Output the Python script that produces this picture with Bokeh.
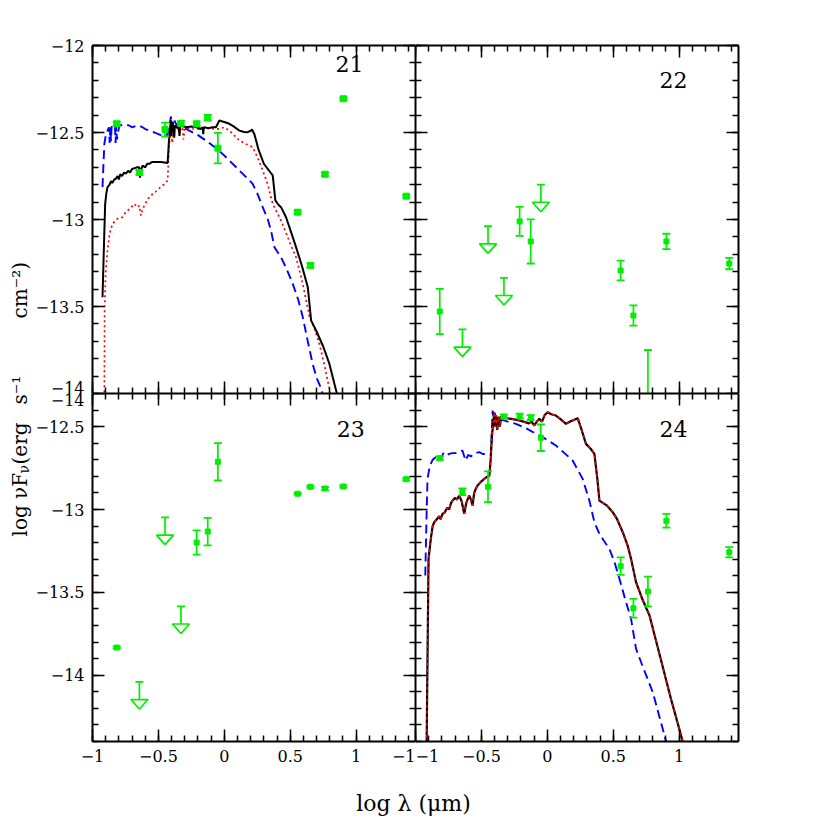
import math
from bokeh.plotting import figure
from bokeh.models import FixedTicker, Label, LinearAxis, Range1d
from bokeh.layouts import gridplot, row, column
from bokeh.embed import file_html
from bokeh.resources import INLINE

# ------------------------------------------------------------------ data
x_major = [-1, -0.5, 0, 0.5, 1]
x_major_labels = ["\u22121", "\u22120.5", "0", "0.5", "1"]
x_minor = [-1.0, -0.9, -0.8, -0.7, -0.6, -0.5, -0.4, -0.3, -0.2, -0.1, 0.0, 0.1, 0.2,
           0.3, 0.4, 0.5, 0.6, 0.7, 0.8, 0.9, 1.0, 1.1, 1.2, 1.3, 1.4]

y_major_top = [-14, -13.5, -13, -12.5, -12]
y_major_top_labels = ["\u221214", "\u221213.5", "\u221213", "\u221212.5", "\u221212"]
y_minor_top = [-14.0, -13.9, -13.8, -13.7, -13.6, -13.5, -13.4, -13.3, -13.2, -13.1, -13.0,
               -12.9, -12.8, -12.7, -12.6, -12.5, -12.4, -12.3, -12.2, -12.1, -12.0]
y_major_bot = [-14, -13.5, -13, -12.5]
y_major_bot_labels = ["\u221214", "\u221213.5", "\u221213", "\u221212.5"]
y_minor_bot = [-14.4, -14.3, -14.2, -14.1, -14.0, -13.9, -13.8, -13.7, -13.6, -13.5, -13.4,
               -13.3, -13.2, -13.1, -13.0, -12.9, -12.8, -12.7, -12.6, -12.5, -12.4, -12.3]

panel_names = ["21", "22", "23", "24"]
y_title_parts = ["log \u03bdF", "\u03bd", "(erg", "s\u207b\u00b9", "cm\u207b\u00b2)"]
x_title = "log \u03bb (\u03bcm)"

# panel 21
p21_x = [-0.816, -0.644, -0.450, -0.329, -0.210, -0.126, -0.049, 0.556, 0.653, 0.763, 0.903, 1.380]
p21_y = [-12.450, -12.730, -12.483, -12.447, -12.450, -12.415, -12.590, -12.958, -13.264, -12.740, -12.306, -12.866]
p21_e = [0.012, 0.014, 0.040, 0.012, 0.012, 0.016, 0.088, 0.010, 0.012, 0.010, 0.006, 0.008]

m21_black_x = [-0.924, -0.915, -0.904, -0.895, -0.886, -0.87, -0.86, -0.85, -0.835, -0.823, -0.81, -0.80,
               -0.79, -0.775, -0.76, -0.747, -0.73, -0.715, -0.70, -0.68, -0.66, -0.646, -0.64, -0.635,
               -0.62, -0.60, -0.585, -0.57, -0.55, -0.52, -0.48, -0.43, -0.42, -0.41, -0.405, -0.40,
               -0.395, -0.385, -0.38, -0.375, -0.36, -0.35, -0.34, -0.335, -0.31, -0.29, -0.25, -0.21,
               -0.18, -0.165, -0.16, -0.155, -0.12, -0.09, -0.064, -0.05, -0.038, -0.02, 0.0, 0.038,
               0.07, 0.114, 0.15, 0.177, 0.20, 0.21, 0.228, 0.26, 0.30, 0.35, 0.367, 0.387, 0.41,
               0.43, 0.468, 0.505, 0.544, 0.59, 0.633, 0.658, 0.696, 0.75, 0.797, 0.853, 0.87]
m21_black_y = [-13.447, -13.20, -12.91, -12.85, -12.814, -12.80, -12.78, -12.79, -12.77, -12.766, -12.75, -12.77,
               -12.74, -12.75, -12.73, -12.737, -12.72, -12.73, -12.71, -12.705, -12.70, -12.70, -12.76, -12.72,
               -12.69, -12.70, -12.68, -12.68, -12.67, -12.67, -12.67, -12.675, -12.546, -12.46, -12.43, -12.52,
               -12.44, -12.47, -12.53, -12.46, -12.47, -12.45, -12.52, -12.46, -12.465, -12.47, -12.465, -12.47,
               -12.48, -12.47, -12.51, -12.47, -12.475, -12.47, -12.47, -12.45, -12.43, -12.435, -12.44, -12.45,
               -12.465, -12.489, -12.497, -12.498, -12.49, -12.483, -12.51, -12.60, -12.68, -12.73, -12.747, -12.89, -12.915,
               -12.929, -12.987, -13.07, -13.159, -13.27, -13.389, -13.58, -13.638, -13.73, -13.83, -13.998, -14.05]

m21_red_x = [-0.91, -0.908, -0.90, -0.886, -0.87, -0.848, -0.83, -0.81, -0.79, -0.772, -0.75, -0.72, -0.70,
             -0.683, -0.66, -0.645, -0.633, -0.62, -0.60, -0.58, -0.56, -0.544, -0.52, -0.50, -0.468, -0.43,
             -0.42, -0.41, -0.405, -0.395, -0.385, -0.36, -0.34, -0.317, -0.31, -0.30, -0.25, -0.20, -0.165,
             -0.12, -0.08, -0.038, 0.0, 0.04, 0.08, 0.114, 0.16, 0.215, 0.25, 0.291, 0.33, 0.367, 0.40, 0.43,
             0.47, 0.50, 0.544, 0.595, 0.646, 0.68, 0.721, 0.76, 0.797, 0.81]
m21_red_y = [-14.05, -13.504, -13.30, -13.178, -13.08, -13.025, -13.01, -12.995, -12.99, -12.987, -12.96, -12.94, -12.925,
             -12.91, -12.93, -12.92, -12.977, -12.94, -12.91, -12.88, -12.87, -12.852, -12.84, -12.825, -12.805, -12.776,
             -12.584, -12.52, -12.49, -12.56, -12.49, -12.475, -12.49, -12.47, -12.54, -12.475, -12.48, -12.48, -12.479,
             -12.475, -12.48, -12.479, -12.47, -12.49, -12.52, -12.546, -12.565, -12.584, -12.64, -12.718, -12.80, -12.91, -12.96, -13.006,
             -13.08, -13.14, -13.217, -13.37, -13.561, -13.62, -13.714, -13.84, -13.973, -14.05]

m21_blue_x = [-0.924, -0.915, -0.91, -0.90, -0.886, -0.875, -0.87, -0.865, -0.86, -0.855, -0.848, -0.83, -0.825,
              -0.82, -0.815, -0.797, -0.76, -0.722, -0.70, -0.68, -0.646, -0.62, -0.60, -0.57, -0.53, -0.50,
              -0.468, -0.44, -0.42, -0.41, -0.405, -0.395, -0.385, -0.367, -0.33, -0.30, -0.266, -0.20, -0.14,
              -0.08, -0.013, 0.05, 0.114, 0.17, 0.215, 0.25, 0.291, 0.33, 0.354, 0.38, 0.43, 0.47, 0.519, 0.56,
              0.595, 0.63, 0.67, 0.70, 0.741, 0.75]
m21_blue_y = [-12.814, -12.65, -12.565, -12.52, -12.489, -12.47, -12.56, -12.47, -12.55, -12.47, -12.46, -12.455, -12.56,
              -12.46, -12.54, -12.46, -12.455, -12.46, -12.47, -12.465, -12.46, -12.47, -12.48, -12.489, -12.50, -12.51,
              -12.517, -12.52, -12.489, -12.43, -12.408, -12.47, -12.42, -12.45, -12.465, -12.475, -12.489, -12.515, -12.546,
              -12.58, -12.623, -12.67, -12.718, -12.76, -12.795, -12.85, -12.929, -13.00, -13.063, -13.159, -13.217, -13.28, -13.37, -13.46,
              -13.561, -13.69, -13.83, -13.91, -13.983, -14.05]

# panel 22
p22_x = [-0.816, -0.210, -0.126, 0.556, 0.653, 0.763, 0.903, 1.380]
p22_y = [-13.529, -13.011, -13.126, -13.293, -13.552, -14.100, -13.126, -13.253]
p22_e = [0.130, 0.083, 0.127, 0.057, 0.058, 0.350, 0.044, 0.033]
p22_ul_x = [-0.644, -0.450, -0.329, -0.049]
p22_ul_y = [-13.632, -13.038, -13.335, -12.799]

# panel 23
p23_x = [-0.816, -0.210, -0.126, -0.049, 0.556, 0.653, 0.763, 0.903, 1.380]
p23_y = [-13.833, -13.199, -13.133, -12.712, -12.905, -12.863, -12.873, -12.861, -12.817]
p23_e = [0.006, 0.073, 0.083, 0.113, 0.005, 0.006, 0.010, 0.007, 0.008]
p23_ul_x = [-0.644, -0.450, -0.329]
p23_ul_y = [-14.040, -13.048, -13.584]

# panel 24
p24_x = [-0.816, -0.644, -0.450, -0.329, -0.210, -0.126, -0.049, 0.556, 0.653, 0.763, 0.903, 1.380]
p24_y = [-12.690, -12.893, -12.863, -12.439, -12.437, -12.445, -12.567, -13.342, -13.596, -13.495, -13.068, -13.258]
p24_e = [0.010, 0.020, 0.093, 0.012, 0.015, 0.015, 0.080, 0.053, 0.057, 0.090, 0.041, 0.031]

m24_total_x = [-0.916, -0.905, -0.901, -0.884, -0.87, -0.858, -0.84, -0.82, -0.81, -0.795, -0.78, -0.76, -0.745,
               -0.73, -0.719, -0.70, -0.685, -0.668, -0.65, -0.63, -0.615, -0.60, -0.592, -0.58, -0.567, -0.555,
               -0.54, -0.529, -0.50, -0.47, -0.44, -0.43, -0.42, -0.41, -0.403, -0.395, -0.39, -0.38, -0.37,
               -0.36, -0.35, -0.334, -0.30, -0.26, -0.213, -0.18, -0.14, -0.12, -0.099, -0.08, -0.061, -0.04,
               -0.02, 0.002, 0.03, 0.065, 0.10, 0.141, 0.17, 0.20, 0.23, 0.26, 0.293, 0.33, 0.357, 0.38, 0.395,
               0.45, 0.496, 0.53, 0.572, 0.61, 0.635, 0.673, 0.72, 0.775, 0.85, 0.93, 1.027, 1.04]
m24_total_y = [-14.45, -13.60, -13.298, -13.177, -13.10, -13.077, -13.06, -13.04, -13.06, -13.026, -13.02, -12.99, -13.00,
               -12.96, -12.946, -12.93, -12.94, -12.916, -12.95, -13.026, -12.96, -12.93, -12.916, -12.94, -12.976, -12.90,
               -12.87, -12.855, -12.83, -12.81, -12.795, -12.70, -12.553, -12.48, -12.413, -12.50, -12.43, -12.52, -12.44,
               -12.50, -12.44, -12.443, -12.45, -12.455, -12.463, -12.47, -12.48, -12.47, -12.493, -12.47, -12.453, -12.47,
               -12.43, -12.413, -12.425, -12.433, -12.455, -12.483, -12.47, -12.46, -12.449, -12.52, -12.604, -12.635, -12.664, -12.82, -12.946,
               -12.975, -13.016, -13.06, -13.137, -13.22, -13.298, -13.439, -13.54, -13.64, -13.87, -14.12, -14.40, -14.45]

m24_blue_x = [-0.926, -0.915, -0.909, -0.891, -0.87, -0.846, -0.82, -0.80, -0.79, -0.77, -0.744, -0.72, -0.70,
              -0.67, -0.644, -0.62, -0.60, -0.58, -0.55, -0.516, -0.49, -0.46, -0.428, -0.415, -0.405, -0.395,
              -0.385, -0.364, -0.30, -0.238, -0.16, -0.087, 0.0, 0.065, 0.13, 0.192, 0.23, 0.268, 0.32, 0.357,
              0.395, 0.43, 0.471, 0.51, 0.547, 0.59, 0.635, 0.673, 0.72, 0.80, 0.85, 0.901, 0.91]
m24_blue_y = [-13.398, -13.00, -12.815, -12.735, -12.70, -12.684, -12.67, -12.69, -12.66, -12.675, -12.664, -12.66, -12.66,
              -12.655, -12.644, -12.704, -12.67, -12.68, -12.66, -12.654, -12.665, -12.665, -12.67, -12.403, -12.47, -12.42,
              -12.49, -12.453, -12.47, -12.483, -12.51, -12.543, -12.58, -12.614, -12.66, -12.704, -12.76, -12.815, -12.95, -13.077,
              -13.147, -13.19, -13.237, -13.32, -13.418, -13.54, -13.66, -13.841, -13.94, -14.103, -14.25, -14.40, -14.45]

# ------------------------------------------------------------------ style / layout
FONT = "DejaVu Serif"
GREEN = "#00ee00"
XR = (-1.0, 1.45)
YR_TOP = (-14.0, -12.0)
YR_BOT = (-14.4, -12.3)
FW, FH = 323, 348
TICK_FS = "16px"
YT_W = 32            # width of the strip holding the y title
LEFT_B = 90 - YT_W   # left border of the left panels
TOP_B = 45
BOT_B = 34
RIGHT_B = 30
XT_H = 46
TOTAL_H = TOP_B + FH + FH + BOT_B + XT_H
BLUE_DASH = "9 5"


def styled_axis(ticks, minor, labels, show):
    ax = LinearAxis(ticker=FixedTicker(ticks=ticks, minor_ticks=minor))
    ax.axis_line_width = 2
    ax.axis_line_color = "black"
    ax.major_tick_in = 12
    ax.major_tick_out = 0
    ax.minor_tick_in = 6
    ax.minor_tick_out = 0
    ax.major_tick_line_width = 1.5
    ax.minor_tick_line_width = 1.5
    ax.major_tick_line_color = "black"
    ax.minor_tick_line_color = "black"
    if show:
        ax.major_label_overrides = dict(zip(ticks, labels))
        ax.major_label_text_font = FONT
        ax.major_label_text_font_size = TICK_FS
        ax.major_label_text_color = "black"
        ax.major_label_standoff = 8
    else:
        ax.major_label_text_font_size = "0px"
        ax.major_label_text_color = None
        ax.major_label_standoff = 0
    return ax


def make_fig(yr, yticks, ylabels, yminor, xticks, xlabels, left, bottom, borders):
    bl, br, bt, bb = borders
    p = figure(frame_width=FW, frame_height=FH, x_range=Range1d(*XR), y_range=Range1d(*yr),
               output_backend="svg", toolbar_location=None, tools="",
               min_border_left=bl, min_border_right=br, min_border_top=bt, min_border_bottom=bb,
               x_axis_location=None, y_axis_location=None,
               background_fill_color="white", border_fill_color="white",
               outline_line_color=None)
    p.grid.visible = False
    p.add_layout(styled_axis(yticks, yminor, ylabels, left), "left")
    p.add_layout(styled_axis(yticks, yminor, ylabels, False), "right")
    p.add_layout(styled_axis(xticks, x_minor, xlabels, bottom), "below")
    p.add_layout(styled_axis(xticks, x_minor, xlabels, False), "above")
    return p


def ppu(yr):
    return FH / (yr[1] - yr[0])


def add_points(p, xs, ys, es, size):
    lo = [y - e for y, e in zip(ys, es)]
    hi = [y + e for y, e in zip(ys, es)]
    p.segment(x0=xs, y0=lo, x1=xs, y1=hi, line_color=GREEN, line_width=1.7)
    p.scatter(xs + xs, lo + hi, marker="dash", size=8, line_color=GREEN, line_width=1.8)
    p.scatter(xs, ys, marker="square", size=size, fill_color=GREEN, line_color=GREEN)


def add_limits(p, xs, ys, yr):
    k = ppu(yr)
    bar = 17.7 / k
    th = 9.5 / k
    hw = 8.5 * (XR[1] - XR[0]) / FW
    ybase = [y - bar for y in ys]
    p.segment(x0=xs, y0=ys, x1=xs, y1=ybase, line_color=GREEN, line_width=1.7)
    p.scatter(xs, ys, marker="dash", size=8, line_color=GREEN, line_width=1.8)
    p.patches(xs=[[x - hw, x + hw, x] for x in xs],
              ys=[[b, b, b - th] for b in ybase],
              fill_alpha=0, line_color=GREEN, line_width=1.7)


def panel_label(p, text, x, y):
    p.add_layout(Label(x=x, y=y, text=text, text_font=FONT, text_font_size="22px",
                       text_align="center", text_baseline="middle", text_color="black"))


# the lower panels also carry the tick labels of the neighbouring panel's edge
# (top panel's -14 and right panel's -1), so these texts are not cut in half
bot_yticks = y_major_bot + [YR_BOT[1]]
bot_ylabels = y_major_bot_labels + [y_major_top_labels[0]]
p23_xticks = x_major + [XR[1]]
p23_xlabels = x_major_labels + [x_major_labels[0]]

p21 = make_fig(YR_TOP, y_major_top, y_major_top_labels, y_minor_top, x_major, x_major_labels,
               True, False, (LEFT_B, 0, TOP_B, 0))
p22 = make_fig(YR_TOP, y_major_top, y_major_top_labels, y_minor_top, x_major, x_major_labels,
               False, False, (0, RIGHT_B, TOP_B, 0))
p23 = make_fig(YR_BOT, bot_yticks, bot_ylabels, y_minor_bot, p23_xticks, p23_xlabels,
               True, True, (LEFT_B, 0, 0, BOT_B))
p24 = make_fig(YR_BOT, y_major_bot, y_major_bot_labels, y_minor_bot, x_major, x_major_labels,
               False, True, (0, RIGHT_B, 0, BOT_B))

# panel 21
p21.line(m21_blue_x, m21_blue_y, line_color="blue", line_width=1.9, line_dash=BLUE_DASH)
p21.line(m21_red_x, m21_red_y, line_color="red", line_width=1.7, line_dash="2 3")
p21.line(m21_black_x, m21_black_y, line_color="black", line_width=2)
add_points(p21, p21_x, p21_y, p21_e, 6)
panel_label(p21, panel_names[0], 0.949, -12.105)

# panel 22
add_points(p22, p22_x, p22_y, p22_e, 5)
add_limits(p22, p22_ul_x, p22_ul_y, YR_TOP)
panel_label(p22, panel_names[1], 0.957, -12.201)

# panel 23
add_points(p23, p23_x, p23_y, p23_e, 5)
add_limits(p23, p23_ul_x, p23_ul_y, YR_BOT)
panel_label(p23, panel_names[2], 0.959, -12.516)

# panel 24
p24.line(m24_blue_x, m24_blue_y, line_color="blue", line_width=1.9, line_dash=BLUE_DASH)
p24.line(m24_total_x, m24_total_y, line_color="black", line_width=2.2)
p24.line(m24_total_x, m24_total_y, line_color="red", line_width=1.5, line_dash="3 3")
add_points(p24, p24_x, p24_y, p24_e, 5)
panel_label(p24, panel_names[3], 0.957, -12.516)

grid = gridplot([[p21, p22], [p23, p24]], toolbar_location=None)


def blank(w, h):
    f = figure(width=w, height=h, x_range=Range1d(0, w), y_range=Range1d(h, 0),
               output_backend="svg", toolbar_location=None, tools="",
               min_border=0, x_axis_location=None, y_axis_location=None,
               background_fill_color="white", border_fill_color="white",
               outline_line_color=None)
    f.grid.visible = False
    return f


# y title strip (pixel coordinates, y downward); text reads bottom to top
yt = blank(YT_W, TOTAL_H)
A = math.pi / 2
yt_pos = [(19.5, 536, "20px"), (23.5, 473, "14px"), (19.5, 464, "20px"),
          (19.5, 404, "20px"), (19.5, 318, "20px")]
for txt, (px, py, fs) in zip(y_title_parts, yt_pos):
    yt.add_layout(Label(x=px, y=py, text=txt, angle=A, text_font=FONT, text_font_size=fs,
                        text_align="left", text_baseline="middle", text_color="black"))

# x title strip
XT_W = LEFT_B + FW + FW + RIGHT_B
xt = blank(XT_W, XT_H)
xt.add_layout(Label(x=LEFT_B + FW, y=28, text=x_title, text_font=FONT, text_font_size="22px",
                    text_align="center", text_baseline="middle", text_color="black"))

layout = row(yt, column(grid, xt))

open("out.html", "w").write(file_html(layout, INLINE))
